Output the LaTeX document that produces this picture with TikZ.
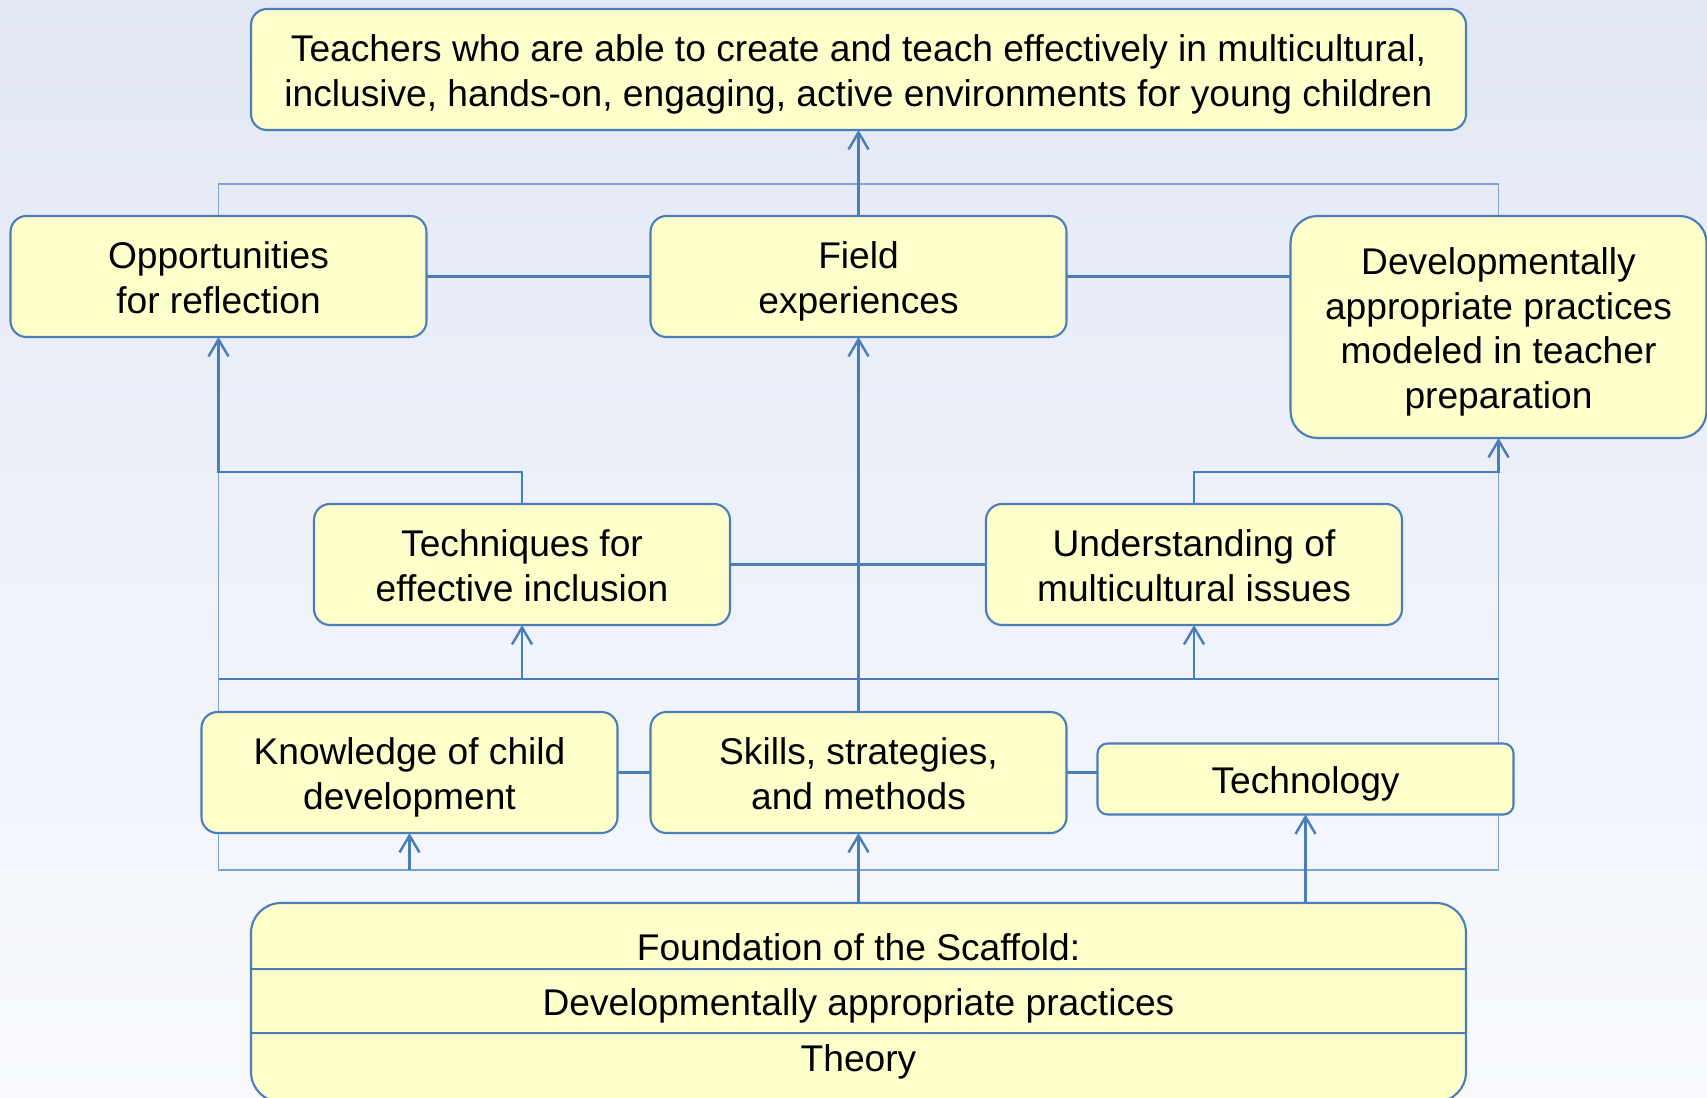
\documentclass[tikz,border=0pt]{standalone}
\usepackage{xcolor}
\usepackage{fontspec}
\setmainfont{Liberation Sans}
\usepackage{tikz}
\usetikzlibrary{shapes,arrows.meta,positioning,backgrounds}

\definecolor{scafblue}{HTML}{4A7EBB}
\definecolor{railblue}{HTML}{7FA3CF}
\definecolor{boxyellow}{HTML}{FFFFCC}
\definecolor{skytop}{HTML}{E2E8F4}
\definecolor{skybottom}{HTML}{F8FAFE}

% same line box in every node, whatever the letters
\newcommand{\ls}{\rule[-2.15pt]{0pt}{12.6pt}}

\begin{document}
\begin{tikzpicture}
	\tikzstyle{common} = [draw=scafblue, line width=0.6pt, fill=boxyellow, inner sep=0pt, outer sep=0pt, font=\fontsize{10.57}{12.7}\selectfont]
	\tikzstyle{block} = [rectangle, rounded corners=0.16cm, common, align=center, minimum width=4.16cm, minimum height=1.21cm]
	\tikzstyle{wide} = [block, minimum width=12.15cm]
	\tikzstyle{tall} = [block, rounded corners=0.27cm, minimum height=2.22cm]
	\tikzstyle{flat} = [block, rounded corners=0.1cm, minimum height=0.71cm]
	\tikzstyle{foundation} = [rectangle split, rectangle split parts=3, common, rounded corners=0.3cm]
	\tikzstyle{link} = [draw=scafblue, line width=0.7pt]
	\tikzstyle{line} = [link, -{Straight Barb[length=0.17cm, width=0.2cm]}]
	\tikzstyle{rail} = [draw=railblue, line width=0.45pt]
	\useasboundingbox (0,0) rectangle (17.07,-10.97);

	\node[wide] (goal) at (8.585,-0.695) {\ls Teachers who are able to create and teach effectively in multicultural,\\\ls inclusive, hands-on, engaging, active environments for young children};
	\node[block, below=0.86cm of goal] (field) {\ls Field\\\ls experiences};
	\node[block, left=2.24cm of field] (reflect) {\ls Opportunities\\\ls for reflection};
	\node[tall, right=2.24cm of field.north east, anchor=north west] (dap) {\ls Developmentally\\\ls appropriate practices\\\ls modeled in teacher\\\ls preparation};
	\node[block, below=1.67cm of field, xshift=-3.365cm] (incl) {\ls Techniques for\\\ls effective inclusion};
	\node[block, right=2.56cm of incl] (multi) {\ls Understanding of\\\ls multicultural issues};
	\node[block, below=3.75cm of field] (skills) {\ls Skills, strategies,\\\ls and methods};
	\node[block, left=0.33cm of skills] (child) {\ls Knowledge of child\\\ls development};
	\node[flat, right=0.31cm of skills, yshift=-0.065cm] (tech) {\ls Technology};
	\node[foundation, below=0.7cm of skills] (found) {\makebox[12.15cm]{\rule[-2.28pt]{0pt}{18.21pt}Foundation of the Scaffold:}
		\nodepart{two}\makebox[12.15cm]{\rule[-4.6pt]{0pt}{17.6pt}Developmentally appropriate practices}
		\nodepart{three}\makebox[12.15cm]{\rule[-8.4pt]{0pt}{19pt}Theory}};

	\coordinate[above=0.32cm of field.north] (toprail);
	\coordinate[above=0.33cm of skills.north] (midrail);
	\coordinate[above=0.33cm of found.north] (bottomrail);

	\draw[line] (field) -- (goal);
	\draw[link] (reflect) -- (field);
	\draw[link] (field.east) -- (field.east -| dap.west);
	\draw[link] (incl) -- (multi);
	\draw[link] (child) -- (skills);
	\draw[link] (skills.east) -- (skills.east -| tech.west);
	\draw[line] (skills) -- (field);
	\draw[line] (incl.north) -- ++(0,0.32) -| (reflect.south);
	\draw[line] (multi.north) -- ++(0,0.32) -| (dap.south);
	\draw[link] (reflect.center |- midrail) -- (dap.center |- midrail);
	\draw[line] (incl.south |- midrail) -- (incl.south);
	\draw[line] (multi.south |- midrail) -- (multi.south);
	\draw[line] (child.south |- bottomrail) -- (child.south);
	\draw[line] (found.north) -- (skills.south);
	\draw[line] (found.north -| tech.south) -- (tech.south);

	\begin{scope}[on background layer]
		\shade[top color=skytop, bottom color=skybottom] (0,0) rectangle (17.07,-10.97);
		\draw[rail] (reflect.center |- toprail) rectangle (dap.center |- bottomrail);
	\end{scope}
\end{tikzpicture}
\end{document}
